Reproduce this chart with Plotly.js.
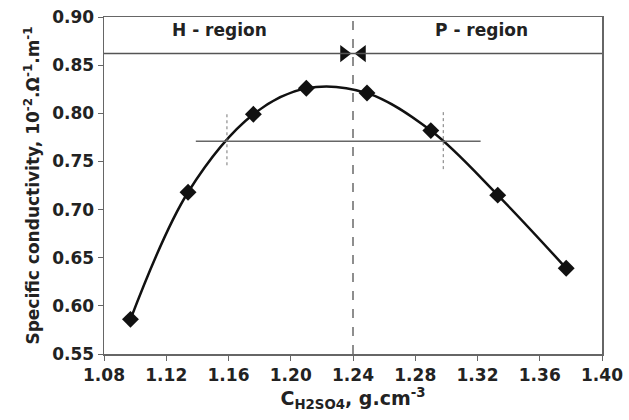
<!DOCTYPE html>
<html>
<head>
<meta charset="utf-8">
<script src="https://cdn.plot.ly/plotly-3.0.1.min.js"></script>
<style>html,body{margin:0;padding:0;background:#fff;}#chart{width:629px;height:420px;}</style>
</head>
<body>
<div id="chart"></div>
<script>
// Data
const concentration = [1.097, 1.134, 1.176, 1.210, 1.249, 1.290, 1.333, 1.377];
const conductivity  = [0.586, 0.718, 0.799, 0.826, 0.821, 0.782, 0.715, 0.639];

const boundaryX = 1.24;          // H/P region boundary
const bandY = 0.862;             // horizontal line under region labels
const midLineX = [1.139, 1.322]; // horizontal half-height line
const midLineY = 0.771;
const leftDotX = 1.159, leftDotY = [0.746, 0.800];
const rightDotX = 1.298, rightDotY = [0.742, 0.804];
const arrowX = [1.2342, 1.2458];
const regionLabels = ["H - region", "P - region"];
const regionLabelX = [1.1545, 1.3225];
const regionLabelY = 0.886;

const xTicks = [1.08, 1.12, 1.16, 1.20, 1.24, 1.28, 1.32, 1.36, 1.40];
const yTicks = [0.55, 0.60, 0.65, 0.70, 0.75, 0.80, 0.85, 0.90];

const FONT = "DejaVu Sans, Liberation Sans, Arial, sans-serif";
const gray = "#666";

const traces = [
  {
    x: concentration, y: conductivity, type: "scatter", mode: "lines+markers",
    line: {shape: "spline", smoothing: 1, color: "#111", width: 2.5},
    marker: {symbol: "diamond", size: 13, color: "#111"},
    hoverinfo: "skip"
  },
  {
    x: arrowX, y: [bandY, bandY], type: "scatter", mode: "markers",
    marker: {symbol: ["triangle-right", "triangle-left"], size: 15, color: "#111"},
    hoverinfo: "skip"
  }
];

const shapes = [
  {type: "line", xref: "x", yref: "y", x0: xTicks[0], x1: xTicks[xTicks.length-1], y0: bandY, y1: bandY,
   line: {color: "#555", width: 1.5}},
  {type: "line", xref: "x", yref: "y", x0: boundaryX, x1: boundaryX, y0: yTicks[0], y1: yTicks[yTicks.length-1],
   line: {color: "#444", width: 1.2, dash: "dash"}},
  {type: "line", xref: "x", yref: "y", x0: midLineX[0], x1: midLineX[1], y0: midLineY, y1: midLineY,
   line: {color: "#666", width: 1.5}},
  {type: "line", xref: "x", yref: "y", x0: leftDotX, x1: leftDotX, y0: leftDotY[0], y1: leftDotY[1],
   line: {color: "#777", width: 1, dash: "dot"}},
  {type: "line", xref: "x", yref: "y", x0: rightDotX, x1: rightDotX, y0: rightDotY[0], y1: rightDotY[1],
   line: {color: "#777", width: 1, dash: "dot"}}
];

const annotations = regionLabels.map((t, i) => ({
  x: regionLabelX[i], y: regionLabelY, xref: "x", yref: "y", text: "<b>" + t + "</b>", showarrow: false,
  font: {family: FONT, size: 17, color: "#222"}
}));

const layout = {
  width: 629, height: 420,
  margin: {l: 104, r: 27, t: 17, b: 66},
  paper_bgcolor: "#fff", plot_bgcolor: "#fff",
  showlegend: false,
  xaxis: {
    range: [1.08, 1.40], tickvals: xTicks, ticktext: xTicks.map(v => "<b>" + v.toFixed(2) + "</b>"),
    ticks: "outside", ticklen: 5, tickcolor: gray, showgrid: false, zeroline: false,
    showline: true, linecolor: gray, linewidth: 1.5, mirror: true,
    tickfont: {family: FONT, size: 17, color: "#222"},
    title: {text: "<b>C<sub>H2SO4</sub>, g.cm<sup>-3</sup></b>", standoff: 6,
            font: {family: FONT, size: 19, color: "#222"}}
  },
  yaxis: {
    range: [0.55, 0.90], tickvals: yTicks, ticktext: yTicks.map(v => "<b>" + v.toFixed(2) + "</b>"),
    ticks: "outside", ticklen: 5, tickcolor: gray, showgrid: false, zeroline: false,
    showline: true, linecolor: gray, linewidth: 1.5, mirror: true,
    tickfont: {family: FONT, size: 17, color: "#222"},
    title: {text: "<b>Specific conductivity, 10<sup>-2</sup>.Ω<sup>-1</sup>.m<sup>-1</sup></b>", standoff: 8,
            font: {family: FONT, size: 17, color: "#222"}}
  },
  shapes: shapes,
  annotations: annotations
};

Plotly.newPlot("chart", traces, layout, {staticPlot: true, displayModeBar: false});
</script>
</body>
</html>
